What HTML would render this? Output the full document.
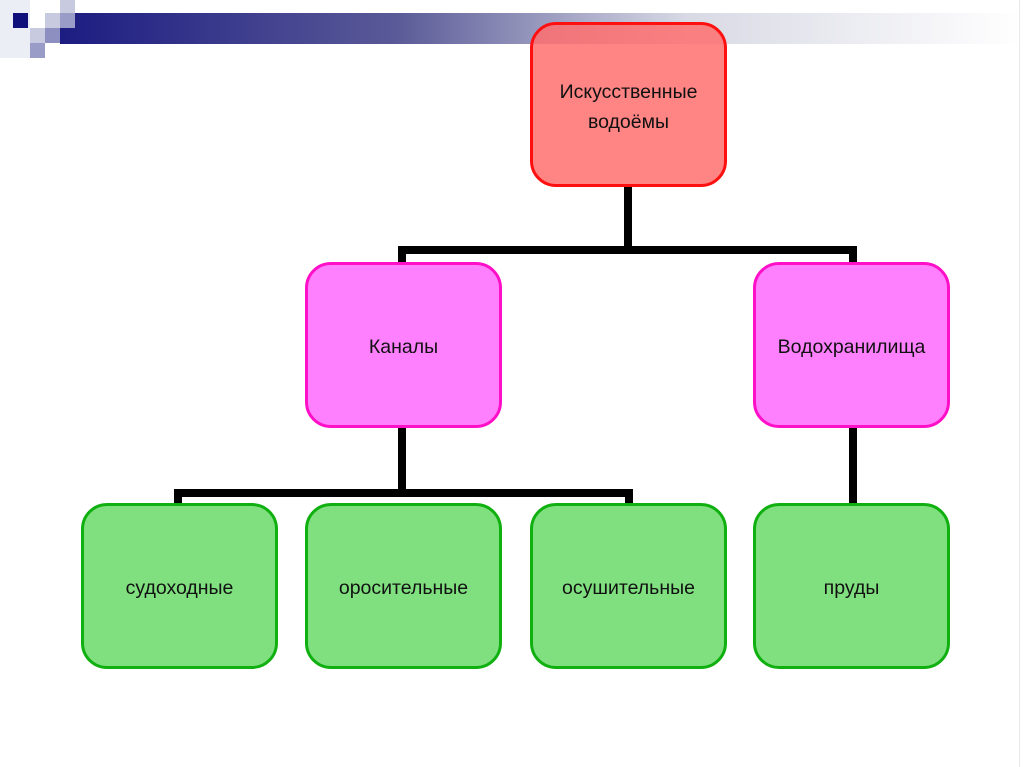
<!DOCTYPE html>
<html><head><meta charset="utf-8"><style>
html,body{margin:0;padding:0;background:#fff;width:1024px;height:767px;overflow:hidden;position:relative;font-family:"Liberation Sans",sans-serif}
.a{position:absolute}
.box{position:absolute;box-sizing:border-box;border-radius:26px;border:3px solid;display:flex;align-items:center;justify-content:center;text-align:center;font-size:19.5px;line-height:30px;color:#111;padding-top:4px}
.r{background:rgba(255,110,110,0.85);border-color:#ff1010}
.p{background:#ff80ff;border-color:#ff10c8}
.g{background:#80e080;border-color:#10b010}
.l{position:absolute;background:#000}
</style></head><body>
<div class="a" style="left:60px;top:13px;width:962px;height:31px;background:linear-gradient(to right,#1c1c82,#5a5a98 35%,#d8d9e4 65%,#fff)"></div>
<div class="a" style="left:0;top:0;width:30px;height:58px;background:#eceef6"></div>
<div class="a" style="left:13px;top:13px;width:15px;height:15px;background:#10107a"></div>
<div class="a" style="left:45px;top:13px;width:15px;height:15px;background:#c8cae0"></div>
<div class="a" style="left:60px;top:0;width:15px;height:13px;background:#c8cae0"></div>
<div class="a" style="left:60px;top:13px;width:15px;height:15px;background:#9a9cc8"></div>
<div class="a" style="left:30px;top:28px;width:15px;height:15px;background:#c8cae0"></div>
<div class="a" style="left:45px;top:28px;width:15px;height:15px;background:#8c8fc0"></div>
<div class="a" style="left:30px;top:43px;width:15px;height:15px;background:#9a9cc8"></div>
<div class="a" style="left:1019px;top:0;width:1px;height:767px;background:#e8e8e8"></div>

<div class="l" style="left:624px;top:186px;width:8px;height:68px"></div>
<div class="l" style="left:398px;top:246px;width:459px;height:8px"></div>
<div class="l" style="left:398px;top:246px;width:8px;height:18px"></div>
<div class="l" style="left:849px;top:246px;width:8px;height:18px"></div>
<div class="l" style="left:398px;top:427px;width:8px;height:70px"></div>
<div class="l" style="left:174px;top:489px;width:459px;height:8px"></div>
<div class="l" style="left:174px;top:489px;width:8px;height:16px"></div>
<div class="l" style="left:625px;top:489px;width:8px;height:16px"></div>
<div class="l" style="left:849px;top:427px;width:8px;height:78px"></div>

<div class="box r" style="left:530px;top:22px;width:197px;height:165px">Искусственные<br>водоёмы</div>
<div class="box p" style="left:305px;top:262px;width:197px;height:166px">Каналы</div>
<div class="box p" style="left:753px;top:262px;width:197px;height:166px">Водохранилища</div>
<div class="box g" style="left:81px;top:503px;width:197px;height:166px">судоходные</div>
<div class="box g" style="left:305px;top:503px;width:197px;height:166px">оросительные</div>
<div class="box g" style="left:530px;top:503px;width:197px;height:166px">осушительные</div>
<div class="box g" style="left:753px;top:503px;width:197px;height:166px">пруды</div>
</body></html>
